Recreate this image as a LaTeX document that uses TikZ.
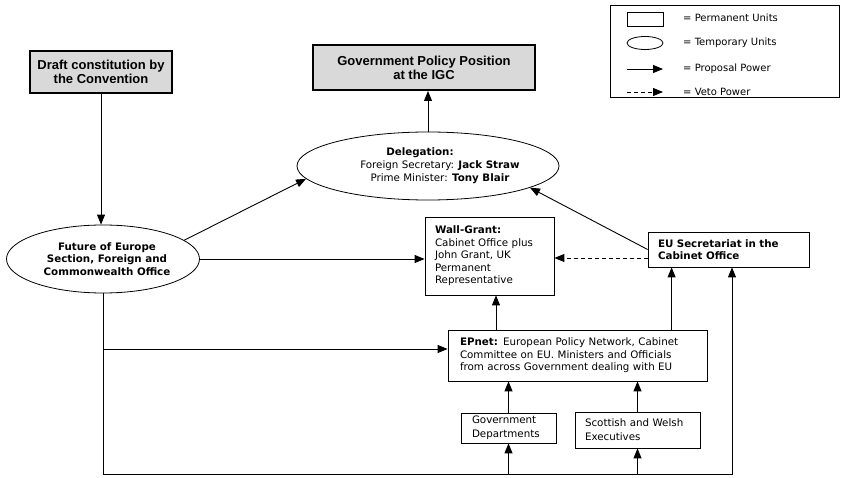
\documentclass[tikz,border=0pt]{standalone}
\usepackage{fontspec}
\setmainfont{DejaVu Sans}
\newfontfamily\headfont{Liberation Sans}
\usetikzlibrary{arrows.meta,shapes.geometric,calc}
\begin{document}
\begin{tikzpicture}[x=1pt,y=-1pt,
  arr/.style={line width=0.9pt,-{Triangle[length=10pt,width=8pt]}},
  veto/.style={arr,dash pattern=on 4pt off 3pt},
  unit/.style={draw,line width=0.8pt,rectangle,align=left,inner ysep=0pt,font=\fontsize{10.3}{12.5}\selectfont},
  temp/.style={draw,line width=0.8pt,ellipse,inner sep=0pt},
  topbox/.style={draw,line width=2pt,fill=gray!30,align=center,font=\headfont\bfseries\fontsize{13}{14}\selectfont,inner sep=0pt},
  leg/.style={anchor=west,font=\fontsize{10}{12}\selectfont,inner sep=0pt}]
\useasboundingbox (0,0) rectangle (841,478);

% legend
\node[draw,line width=0.8pt,minimum width=229pt,minimum height=92pt,inner sep=0pt] (legend) at (724.5,51) {};
\node[draw,line width=0.8pt,minimum width=36pt,minimum height=14pt,inner sep=0pt] (lrect) at (645,19) {};
\node[temp,minimum width=36pt,minimum height=13pt] (lell) at (645,43) {};
\coordinate (la1) at (627,69); \coordinate (lb1) at (663,69);
\coordinate (la2) at (627,92); \coordinate (lb2) at (663,92);
\draw[arr] (la1) -- (lb1);
\draw[veto] (la2) -- (lb2);
\node[leg] (lt1) at (683,18) {= Permanent Units};
\node[leg] (lt2) at (683,43) {= Temporary Units};
\node[leg] (lt3) at (683,69) {= Proposal Power};
\node[leg] (lt4) at (683,92) {= Veto Power};

% top boxes
\node[topbox,minimum width=142pt,minimum height=42pt] (draft) at (101,72) {Draft constitution by\\the Convention};
\node[topbox,minimum width=222pt,minimum height=45pt] (gov) at (424,67.5) {Government Policy Position\\at the IGC};

% temporary units
\node[temp,minimum width=262pt,minimum height=68pt] (deleg) at (428,166) {};
\node[align=center,inner sep=0pt,font=\fontsize{10.3}{13}\selectfont] (delegtxt) at (440,166)
  {\textbf{Delegation:}\hspace*{40pt}\\Foreign Secretary: \textbf{Jack Straw}\\Prime Minister: \textbf{Tony Blair}};
\node[temp,minimum width=193pt,minimum height=68pt,align=center,font=\bfseries\fontsize{10.3}{12.5}\selectfont] (future) at (103,259)
  {\hspace*{8pt}Future of Europe\\\hspace*{8pt}Section, Foreign and\\\hspace*{8pt}Commonwealth Office};

% permanent units
\node[unit,inner xsep=10pt,text width=109pt,minimum height=78pt] (wall) at (489.5,256)
  {\textbf{Wall-Grant:}\\Cabinet Office plus\\John Grant, UK\\Permanent\\Representative};
\node[unit,inner xsep=10pt,text width=141pt,minimum height=35pt,font=\bfseries\fontsize{10.3}{12.5}\selectfont] (eusec) at (728.5,249.5)
  {EU Secretariat in the\\Cabinet Office};
\node[unit,inner xsep=12pt,text width=235pt,minimum height=51pt] (epnet) at (577.5,355.5)
  {\textbf{EPnet:} European Policy Network, Cabinet\\Committee on EU. Ministers and Officials\\from across Government dealing with EU};
\node[unit,inner xsep=11pt,text width=73pt,minimum height=30pt,font=\fontsize{10.3}{14}\selectfont] (govdep) at (508.5,428)
  {Government\\Departments};
\node[unit,inner xsep=10pt,text width=105pt,minimum height=36pt,font=\fontsize{10.3}{14}\selectfont] (scot) at (637.5,430)
  {Scottish and Welsh\\Executives};

% helper coordinates
\coordinate (j1) at (103,349);
\coordinate (bl) at (103,474);
\coordinate (br) at (732,474);

% connectors
\draw[arr] (draft.south) -- (draft.south |- future.north);
\draw[arr] (future.13) -- (deleg.186);
\draw[arr] (future.east) -- (future.east -| wall.west);
\draw[arr] (deleg.north) -- (deleg.north |- gov.south);
\draw[arr] (eusec.west) -- (deleg.-12);
\draw[veto] ([yshift=-8.5pt]eusec.west) -- ([yshift=-8.5pt]eusec.west -| wall.east);
\draw[arr] ([xshift=6.5pt]wall.south |- epnet.north) -- ([xshift=6.5pt]wall.south);
\draw[arr] ([xshift=24pt]eusec.south west |- epnet.north) -- ([xshift=24pt]eusec.south west);
\draw[line width=0.9pt] (future.south) -- (bl);
\draw[arr] (bl) -- (br) -- (br |- eusec.south);
\draw[arr] (j1) -- (j1 -| epnet.west);
\draw[arr] (govdep.north) -- (govdep.north |- epnet.south);
\draw[arr] (scot.north) -- (scot.north |- epnet.south);
\draw[arr] (govdep.south |- bl) -- (govdep.south);
\draw[arr] (scot.south |- bl) -- (scot.south);
\end{tikzpicture}
\end{document}
